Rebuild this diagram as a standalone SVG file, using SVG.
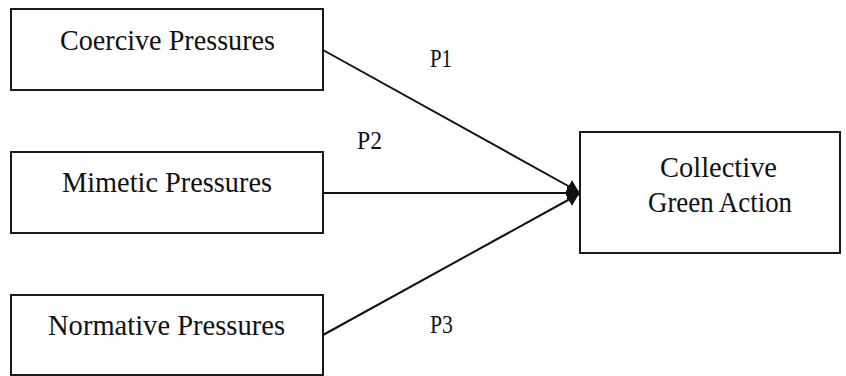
<svg xmlns="http://www.w3.org/2000/svg" width="846" height="376" viewBox="0 0 846 376">
<style>
.box{fill:#fff;stroke:#1a1a1a;stroke-width:2}
.t{font-family:"Liberation Serif","Times New Roman",serif;font-size:29px;fill:#111}
.p{font-family:"Liberation Serif","Times New Roman",serif;font-size:25px;fill:#111}
.c{stroke:#111;stroke-width:2;fill:none}
</style>
<defs>
<marker id="ah" markerUnits="userSpaceOnUse" markerWidth="14" markerHeight="16" refX="12" refY="8" orient="auto">
<path d="M0,1 L12,8 L0,15 Z" fill="#111"/>
</marker>
</defs>
<rect width="846" height="376" fill="#fff"/>
<g id="coercive">
<rect class="box" x="11" y="9" width="312" height="81"/>
<text class="t" x="60" y="50" textLength="215" lengthAdjust="spacingAndGlyphs">Coercive Pressures</text>
</g>
<g id="mimetic">
<rect class="box" x="11" y="152" width="312" height="81"/>
<text class="t" x="62" y="192" textLength="210" lengthAdjust="spacingAndGlyphs">Mimetic Pressures</text>
</g>
<g id="normative">
<rect class="box" x="11" y="295" width="312" height="80"/>
<text class="t" x="48" y="335" textLength="237" lengthAdjust="spacingAndGlyphs">Normative Pressures</text>
</g>
<g id="collective">
<rect class="box" x="580" y="132" width="260" height="121"/>
<text class="t" x="660" y="177" textLength="117" lengthAdjust="spacingAndGlyphs">Collective</text>
<text class="t" x="648" y="212" textLength="144" lengthAdjust="spacingAndGlyphs">Green Action</text>
</g>
<g id="connectors">
<line class="c" x1="323" y1="50" x2="579" y2="192" marker-end="url(#ah)"/>
<line class="c" x1="323" y1="193" x2="579" y2="193" marker-end="url(#ah)"/>
<line class="c" x1="323" y1="335" x2="579" y2="194" marker-end="url(#ah)"/>
<text class="p" x="430" y="67" textLength="22" lengthAdjust="spacingAndGlyphs">P1</text>
<text class="p" x="357" y="149" textLength="25" lengthAdjust="spacingAndGlyphs">P2</text>
<text class="p" x="430" y="333" textLength="23" lengthAdjust="spacingAndGlyphs">P3</text>
</g>
</svg>
